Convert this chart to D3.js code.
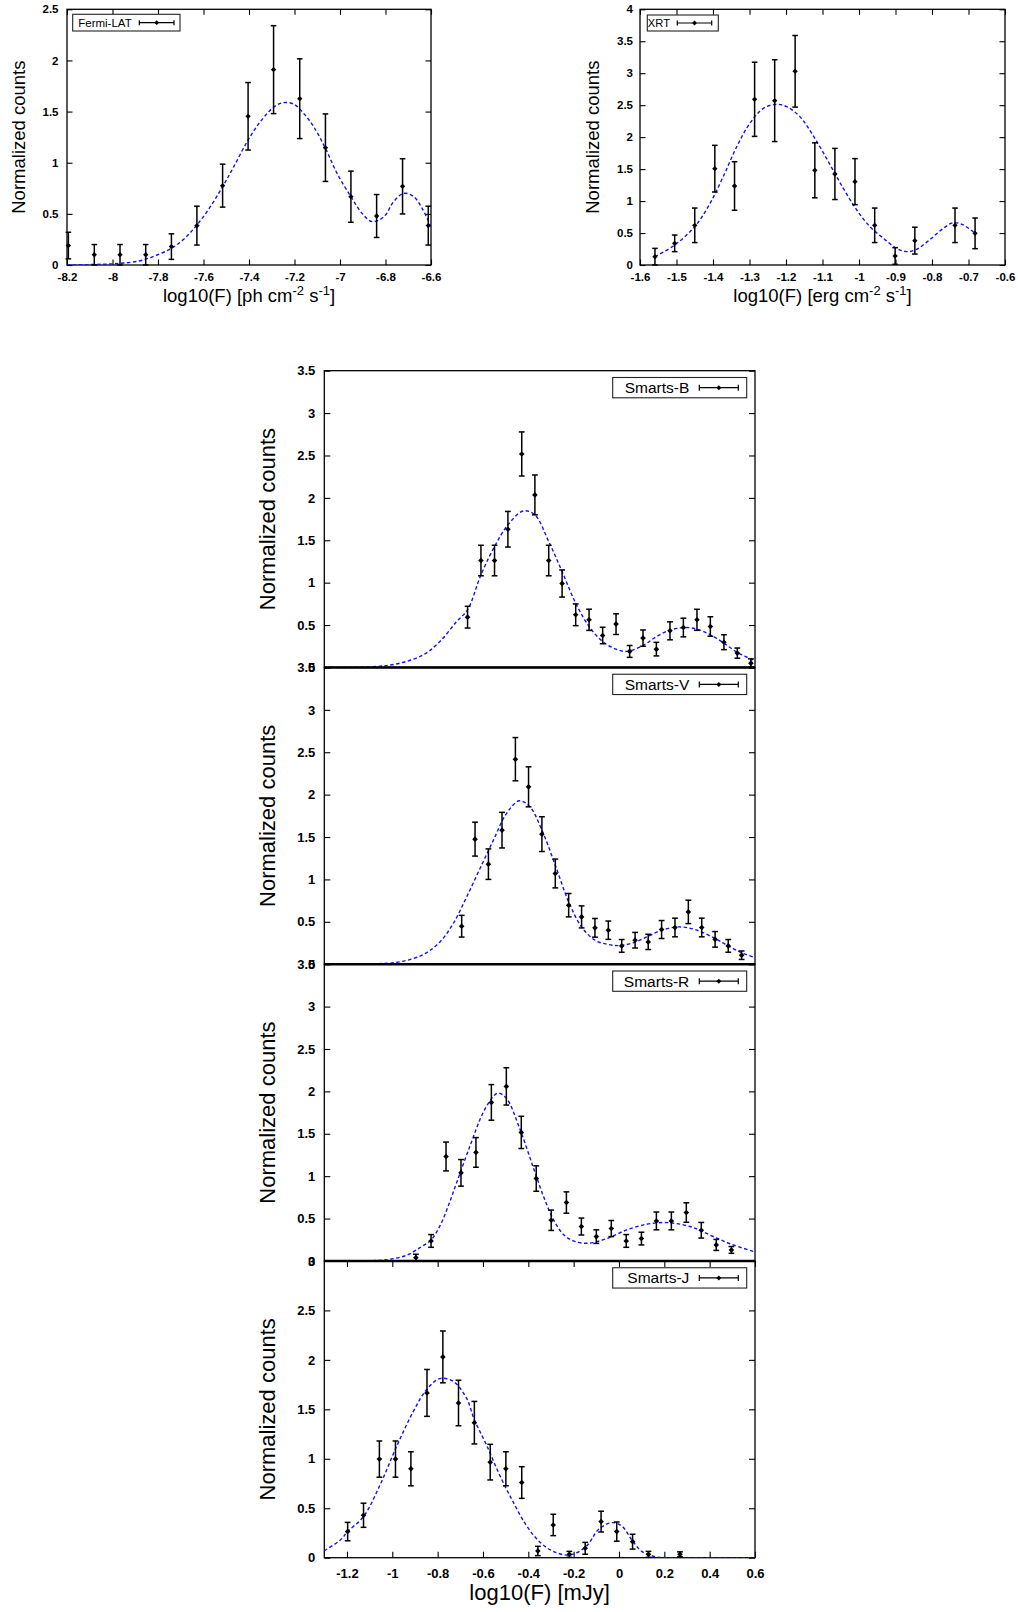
<!DOCTYPE html>
<html><head><meta charset="utf-8">
<script src="https://cdn.jsdelivr.net/npm/d3@7"></script>
<style>body{margin:0;background:#fff}svg{display:block}</style>
</head><body><svg id="c" width="1018" height="1612"></svg>
<script>
// ---------------- data ----------------
const fermiX = [-8.194,-8.080,-7.967,-7.854,-7.741,-7.629,-7.516,-7.404,-7.292,-7.177,-7.064,-6.952,-6.839,-6.725,-6.612];
const fermiY = [0.19,0.10,0.10,0.10,0.18,0.385,0.776,1.454,1.91,1.626,1.147,0.668,0.479,0.769,0.385];
const fermiErr = [0.13,0.10,0.10,0.10,0.125,0.19,0.21,0.33,0.43,0.39,0.33,0.25,0.21,0.27,0.19];
const fermiFitX = [-8.2,-8.053,-7.966,-7.878,-7.804,-7.741,-7.687,-7.629,-7.570,-7.516,-7.467,-7.404,-7.350,-7.292,-7.251,-7.204,-7.160,-7.116,-7.064,-7.013,-6.952,-6.903,-6.859,-6.808,-6.764,-6.720,-6.676,-6.639,-6.600];
const fermiFitY = [0,0.007,0.016,0.042,0.098,0.163,0.251,0.391,0.570,0.766,0.961,1.222,1.402,1.542,1.587,1.574,1.483,1.353,1.141,0.896,0.668,0.505,0.424,0.47,0.62,0.701,0.668,0.554,0.375];

const xrtX = [-1.559,-1.505,-1.450,-1.395,-1.341,-1.286,-1.231,-1.175,-1.121,-1.066,-1.011,-0.957,-0.901,-0.847,-0.737,-0.682];
const xrtY = [0.13,0.339,0.621,1.507,1.236,2.592,2.571,3.03,1.481,1.424,1.304,0.621,0.141,0.381,0.621,0.495];
const xrtErr = [0.13,0.13,0.27,0.365,0.38,0.58,0.64,0.56,0.43,0.40,0.36,0.27,0.13,0.21,0.27,0.24];
const xrtFitX = [-1.559,-1.505,-1.450,-1.408,-1.372,-1.335,-1.299,-1.262,-1.226,-1.198,-1.162,-1.121,-1.079,-1.043,-1.006,-0.970,-0.933,-0.897,-0.869,-0.842,-0.805,-0.769,-0.742,-0.714,-0.682];
const xrtFitY = [0.130,0.313,0.600,0.965,1.382,1.851,2.216,2.451,2.514,2.477,2.321,1.982,1.565,1.199,0.860,0.600,0.417,0.261,0.209,0.245,0.402,0.574,0.662,0.626,0.495];

const bX = [-0.668,-0.609,-0.549,-0.490,-0.429,-0.371,-0.310,-0.251,-0.191,-0.132,-0.072,-0.013,0.047,0.106,0.165,0.225,0.284,0.344,0.403,0.463,0.522,0.582];
const bY = [0.593,1.261,1.261,1.630,2.518,2.035,1.261,0.990,0.621,0.562,0.377,0.511,0.189,0.346,0.216,0.432,0.471,0.562,0.483,0.298,0.169,0.051];
const bErr = [0.128,0.18,0.18,0.21,0.26,0.235,0.18,0.16,0.128,0.125,0.097,0.122,0.07,0.096,0.08,0.106,0.11,0.124,0.115,0.088,0.06,0.05];
const bFitX = [-1.3,-1.084,-0.966,-0.863,-0.790,-0.716,-0.668,-0.609,-0.549,-0.490,-0.422,-0.371,-0.310,-0.251,-0.191,-0.132,-0.072,-0.013,0.034,0.106,0.166,0.225,0.291,0.344,0.403,0.463,0.522,0.600];
const bFitY = [0,0.008,0.051,0.149,0.306,0.542,0.680,1.092,1.426,1.681,1.846,1.799,1.485,1.131,0.758,0.483,0.306,0.216,0.189,0.259,0.365,0.440,0.471,0.452,0.385,0.287,0.177,0.079];

const vX = [-0.694,-0.635,-0.576,-0.516,-0.457,-0.399,-0.340,-0.281,-0.222,-0.165,-0.106,-0.047,0.012,0.071,0.129,0.188,0.247,0.306,0.365,0.424,0.482,0.541];
const vY = [0.448,1.475,1.180,1.581,2.418,2.092,1.534,1.070,0.696,0.558,0.429,0.401,0.216,0.283,0.263,0.409,0.433,0.617,0.433,0.293,0.216,0.106];
const vErr = [0.128,0.2,0.18,0.21,0.255,0.236,0.205,0.17,0.138,0.13,0.11,0.108,0.075,0.092,0.09,0.106,0.11,0.138,0.11,0.092,0.075,0.05];
const vFitX = [-1.3,-1.084,-0.966,-0.863,-0.790,-0.731,-0.672,-0.613,-0.554,-0.496,-0.440,-0.393,-0.340,-0.281,-0.222,-0.165,-0.106,-0.047,0.004,0.071,0.129,0.188,0.262,0.335,0.424,0.482,0.541,0.600];
const vFitY = [0,0.004,0.028,0.114,0.263,0.480,0.794,1.129,1.463,1.778,1.927,1.856,1.581,1.168,0.735,0.440,0.283,0.232,0.220,0.260,0.330,0.401,0.440,0.409,0.303,0.216,0.134,0.079];

const rX = [-0.896,-0.829,-0.763,-0.697,-0.631,-0.563,-0.497,-0.431,-0.365,-0.299,-0.232,-0.166,-0.100,-0.034,0.032,0.099,0.165,0.231,0.297,0.363,0.429,0.496];
const rY = [0.039,0.236,1.232,1.039,1.280,1.870,2.059,1.516,0.972,0.480,0.689,0.406,0.287,0.382,0.236,0.264,0.472,0.472,0.571,0.362,0.189,0.130];
const rErr = [0.04,0.075,0.17,0.157,0.175,0.21,0.22,0.19,0.15,0.12,0.126,0.1,0.08,0.095,0.075,0.075,0.105,0.105,0.115,0.092,0.065,0.04];
const rFitX = [-1.3,-1.084,-1.010,-0.937,-0.878,-0.829,-0.790,-0.753,-0.716,-0.657,-0.599,-0.554,-0.532,-0.496,-0.437,-0.378,-0.334,-0.290,-0.246,-0.201,-0.135,-0.054,0.034,0.122,0.196,0.254,0.313,0.363,0.429,0.496,0.600];
const rFitY = [0,0.004,0.020,0.067,0.157,0.248,0.413,0.650,0.925,1.358,1.752,1.941,1.980,1.917,1.555,1.102,0.768,0.492,0.315,0.236,0.209,0.264,0.366,0.433,0.453,0.441,0.406,0.354,0.272,0.197,0.106];

const jX = [-1.197,-1.127,-1.057,-0.986,-0.918,-0.847,-0.777,-0.708,-0.638,-0.568,-0.499,-0.429,-0.358,-0.290,-0.219,-0.149,-0.079,-0.010,0.060,0.130,0.269];
const jY = [0.264,0.429,0.997,0.997,0.899,1.666,2.030,1.564,1.365,0.966,0.899,0.760,0.068,0.331,0.034,0.095,0.365,0.264,0.162,0.034,0.034];
const jErr = [0.093,0.122,0.183,0.183,0.172,0.237,0.262,0.23,0.215,0.18,0.172,0.16,0.047,0.108,0.03,0.06,0.105,0.097,0.075,0.03,0.025];
const jFitX = [-1.3,-1.229,-1.197,-1.127,-1.054,-0.981,-0.907,-0.849,-0.790,-0.732,-0.673,-0.638,-0.585,-0.527,-0.468,-0.410,-0.351,-0.293,-0.219,-0.146,-0.088,-0.029,0.015,0.060,0.102,0.161,0.234,0.600];
const jFitY = [0.071,0.179,0.264,0.416,0.736,1.125,1.480,1.699,1.811,1.784,1.615,1.395,1.142,0.838,0.568,0.331,0.162,0.068,0.027,0.111,0.291,0.355,0.314,0.169,0.061,0.010,0,0];

// tick labels
const fermiXTicks = [-8.2,-8,-7.8,-7.6,-7.4,-7.2,-7,-6.8,-6.6];
const fermiYTicks = [0,0.5,1,1.5,2,2.5];
const xrtXTicks = [-1.6,-1.5,-1.4,-1.3,-1.2,-1.1,-1,-0.9,-0.8,-0.7,-0.6];
const xrtYTicks = [0,0.5,1,1.5,2,2.5,3,3.5,4];
const smartsXTicks = [-1.2,-1,-0.8,-0.6,-0.4,-0.2,0,0.2,0.4,0.6];
const smartsYTicks = [0,0.5,1,1.5,2,2.5,3,3.5];
const smartsJYTicks = [0,0.5,1,1.5,2,2.5,3];
const seriesNames = ["Fermi-LAT","XRT","Smarts-B","Smarts-V","Smarts-R","Smarts-J"];

// ---------------- drawing ----------------
const FONT = '"Liberation Sans", Arial, Helvetica, sans-serif';
const svg = d3.select('#c');
svg.append('rect').attr('width',1018).attr('height',1612).attr('fill','#fff');
const fmt = d => String(+d.toFixed(2));
let clipN = 0;

function styleAxis(sel, fs){
  sel.select('.domain').remove();
  sel.selectAll('line').attr('stroke','#000').attr('stroke-width',1.1);
  sel.selectAll('text').attr('font-family',FONT).attr('font-size',fs).attr('font-weight','bold').attr('fill','#000');
}

function panel(p){
  const g = svg.append('g');
  const x = d3.scaleLinear().domain(p.xd).range([p.L,p.R]);
  const y = d3.scaleLinear().domain(p.yd).range([p.B,p.T]);
  const cid = 'clip'+(clipN++);
  svg.append('clipPath').attr('id',cid).append('rect')
    .attr('x',p.L).attr('y',p.T).attr('width',p.R-p.L).attr('height',p.B-p.T);

  // y axes (left labelled, right mirror)
  g.append('g').attr('transform',`translate(${p.L},0)`)
    .call(d3.axisLeft(y).tickValues(p.yt).tickSizeInner(-p.tl).tickSizeOuter(0).tickPadding(p.ypad).tickFormat(fmt))
    .call(s=>styleAxis(s,p.tf));
  g.append('g').attr('transform',`translate(${p.R},0)`)
    .call(d3.axisRight(y).tickValues(p.yt).tickSizeInner(-p.tl).tickSizeOuter(0).tickFormat(''))
    .call(s=>styleAxis(s,p.tf));
  if (p.xt){
    g.append('g').attr('transform',`translate(0,${p.B})`)
      .call(d3.axisBottom(x).tickValues(p.xt).tickSizeInner(-p.tl).tickSizeOuter(0).tickPadding(p.xpad).tickFormat(fmt))
      .call(s=>styleAxis(s,p.tf));
    g.append('g').attr('transform',`translate(0,${p.T})`)
      .call(d3.axisTop(x).tickValues(p.xt).tickSizeInner(-p.tl).tickSizeOuter(0).tickFormat(''))
      .call(s=>styleAxis(s,p.tf));
  }
  // frame
  g.append('rect').attr('x',p.L).attr('y',p.T).attr('width',p.R-p.L).attr('height',p.B-p.T)
    .attr('fill','none').attr('stroke','#000').attr('stroke-width',1.3);

  // fit curve
  const fit = p.fx.map((v,i)=>[v,p.fy[i]]);
  g.append('path').datum(fit).attr('clip-path',`url(#${cid})`)
    .attr('d', d3.line().x(d=>x(d[0])).y(d=>y(d[1])).curve(d3.curveCatmullRom.alpha(0.5)))
    .attr('fill','none').attr('stroke','#1010ff').attr('stroke-width',1.4).attr('stroke-dasharray','3.5,2.5');

  // error bars + points
  const pts = p.px.map((v,i)=>({x:v,y:p.py[i],e:p.pe[i]}));
  const eb = g.append('g').attr('stroke','#000').attr('stroke-width',1.5);
  const cap = p.cap;
  pts.forEach(d=>{
    const X = x(d.x), y1 = y(Math.max(0,d.y-d.e)), y2 = y(d.y+d.e);
    eb.append('line').attr('x1',X).attr('x2',X).attr('y1',y1).attr('y2',y2);
    eb.append('line').attr('x1',X-cap).attr('x2',X+cap).attr('y1',y1).attr('y2',y1);
    eb.append('line').attr('x1',X-cap).attr('x2',X+cap).attr('y1',y2).attr('y2',y2);
  });
  g.append('g').selectAll('path').data(pts).join('path')
    .attr('transform',d=>`translate(${x(d.x)},${y(d.y)})`)
    .attr('d', d3.symbol(d3.symbolDiamond2, p.ms)()).attr('fill','#000');

  // legend
  const lg = p.leg;
  const ly = lg.y0 + lg.h/2;
  g.append('rect').attr('x',lg.x0).attr('y',lg.y0).attr('width',lg.w).attr('height',lg.h)
    .attr('fill','#fff').attr('stroke','#222').attr('stroke-width',1.1);
  g.append('text').attr('x',lg.tx).attr('y',ly+lg.fs*0.36).attr('text-anchor','end')
    .attr('font-family',FONT).attr('font-size',lg.fs).attr('fill','#000').text(p.name);
  const lgl = g.append('g').attr('stroke','#000').attr('stroke-width',1.2);
  lgl.append('line').attr('x1',lg.s0).attr('x2',lg.s1).attr('y1',ly).attr('y2',ly);
  lgl.append('line').attr('x1',lg.s0).attr('x2',lg.s0).attr('y1',ly-lg.ch).attr('y2',ly+lg.ch);
  lgl.append('line').attr('x1',lg.s1).attr('x2',lg.s1).attr('y1',ly-lg.ch).attr('y2',ly+lg.ch);
  g.append('path').attr('transform',`translate(${(lg.s0+lg.s1)/2},${ly})`)
    .attr('d', d3.symbol(d3.symbolDiamond2, p.ms*0.8)()).attr('fill','#000');

  // axis titles
  if (p.ytitle){
    g.append('text').attr('transform',`translate(${p.ytx},${(p.T+p.B)/2}) rotate(-90)`)
      .attr('text-anchor','middle').attr('font-family',FONT).attr('font-size',p.ytf).attr('fill','#000')
      .text('Normalized counts');
  }
  return {x,y};
}

function xTitle(cx, by, fs, parts){
  const t = svg.append('text').attr('x',cx).attr('y',by).attr('text-anchor','middle')
    .attr('font-family',FONT).attr('font-size',fs).attr('fill','#000');
  let shift = 0;
  parts.forEach(pt=>{
    const ts = t.append('tspan').text(pt.t);
    const target = pt.sup ? -7 : 0;
    if (target!==shift){ ts.attr('dy', target-shift); shift = target; }
    if (pt.sup) ts.attr('font-size', fs*0.7);
  });
}

// Fermi-LAT
panel({L:67,R:431,T:9.3,B:265,xd:[-8.2,-6.6],yd:[0,2.5],xt:fermiXTicks,yt:fermiYTicks,
  tl:5.5,tf:11.5,ypad:8.5,xpad:7.8,cap:2.8,ms:18,
  px:fermiX,py:fermiY,pe:fermiErr,fx:fermiFitX,fy:fermiFitY,name:seriesNames[0],
  leg:{x0:72.7,y0:14.3,w:107.3,h:16.7,tx:131.7,s0:139.3,s1:174,fs:11.5,ch:2.5},
  ytitle:true,ytx:25,ytf:18.5});
xTitle(249,302,18.5,[{t:'log10(F) [ph cm'},{t:'-2',sup:true},{t:' s'},{t:'-1',sup:true},{t:']'}]);

// XRT
panel({L:640,R:1005,T:9.3,B:265,xd:[-1.6,-0.6],yd:[0,4],xt:xrtXTicks,yt:xrtYTicks,
  tl:5.5,tf:11.5,ypad:7,xpad:7.8,cap:2.8,ms:18,
  px:xrtX,py:xrtY,pe:xrtErr,fx:xrtFitX,fy:xrtFitY,name:seriesNames[1],
  leg:{x0:647.3,y0:15,w:71,h:16,tx:670,s0:677.3,s1:711.7,fs:11.2,ch:2.5},
  ytitle:true,ytx:599,ytf:18.5});
xTitle(822.5,302,18.5,[{t:'log10(F) [erg cm'},{t:'-2',sup:true},{t:' s'},{t:'-1',sup:true},{t:']'}]);

// SMARTS stacked panels
const SL = 324.3, SR = 755, ST = 370.7, SB = 1557.7, PH = (SB-ST)/4;
const smarts = [
  {px:bX,py:bY,pe:bErr,fx:bFitX,fy:bFitY,yd:[0,3.5],yt:smartsYTicks},
  {px:vX,py:vY,pe:vErr,fx:vFitX,fy:vFitY,yd:[0,3.5],yt:smartsYTicks},
  {px:rX,py:rY,pe:rErr,fx:rFitX,fy:rFitY,yd:[0,3.5],yt:smartsYTicks},
  {px:jX,py:jY,pe:jErr,fx:jFitX,fy:jFitY,yd:[0,3],yt:smartsJYTicks}
];
smarts.forEach((s,i)=>{
  const T = ST + i*PH, B = T + PH;
  panel(Object.assign({L:SL,R:SR,T:T,B:B,xd:[-1.3,0.6],xt:(i===3?smartsXTicks:null),
    tl:6,tf:13,ypad:9,xpad:11,cap:2.9,ms:20,name:seriesNames[2+i],
    leg:{x0:612.7,y0:T+6.8,w:134,h:20.3,tx:689.3,s0:699.3,s1:738.3,fs:15.5,ch:3},
    ytitle:true,ytx:275,ytf:22}, s));
});
// thicker shared borders
for (let i=1;i<4;i++){
  svg.append('line').attr('x1',SL).attr('x2',SR).attr('y1',ST+i*PH).attr('y2',ST+i*PH)
    .attr('stroke','#000').attr('stroke-width',2.6);
}
xTitle((SL+SR)/2,1600,22,[{t:'log10(F) [mJy]'}]);
</script></body></html>
